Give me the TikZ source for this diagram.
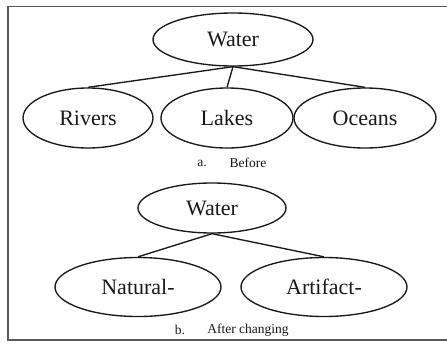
\documentclass[tikz,border=0pt]{standalone}
\usepackage{fontspec}
\setmainfont{Liberation Serif}
\usetikzlibrary{shapes.geometric}
\begin{document}
\begin{tikzpicture}[x=1pt,y=-1pt,
  ell/.style={draw=black!90, line width=1.35pt, ellipse, inner sep=0pt, font=\fontsize{22}{25}\selectfont, text=black!90},
  link/.style={draw=black!90, line width=1.35pt},
  captxt/.style={inner sep=0pt, font=\fontsize{13.5}{15}\selectfont, text=black!90},
  boxframe/.style={draw=black!65, line width=1.4pt}]
\useasboundingbox (0,0) rectangle (447,343);
\draw[boxframe] (460,6.5) -- (8,6.5) -- (8,340) -- (460,340);
% part a
\node[ell, minimum width=160pt, minimum height=53pt] (w1) at (233,39.5) {Water};
\node[ell, minimum width=130pt, minimum height=60pt] (rivers) at (88,118) {Rivers};
\node[ell, minimum width=132pt, minimum height=60pt] (lakes) at (227,118) {Lakes};
\node[ell, minimum width=142pt, minimum height=60pt] (oceans) at (365,118) {Oceans};
\draw[link] (w1.south) -- (rivers.north);
\draw[link] (w1.south) -- (lakes.north);
\draw[link] (w1.south) -- (oceans.north);
\node[captxt] (capa) at (202,163) {a.};
\node[captxt] (capatext) at (248,163) {Before};
% part b
\node[ell, minimum width=148pt, minimum height=50pt] (w2) at (212,208) {Water};
\node[ell, minimum width=166pt, minimum height=59pt] (natural) at (138,287) {Natural-};
\node[ell, minimum width=166pt, minimum height=59pt] (artifact) at (324,287) {Artifact-};
\draw[link] (w2.south) -- (natural.north);
\draw[link] (w2.south) -- (artifact.north);
\node[captxt] (capb) at (180,330) {b.};
\node[captxt] (capbtext) at (248,330) {After changing};
\end{tikzpicture}
\end{document}
